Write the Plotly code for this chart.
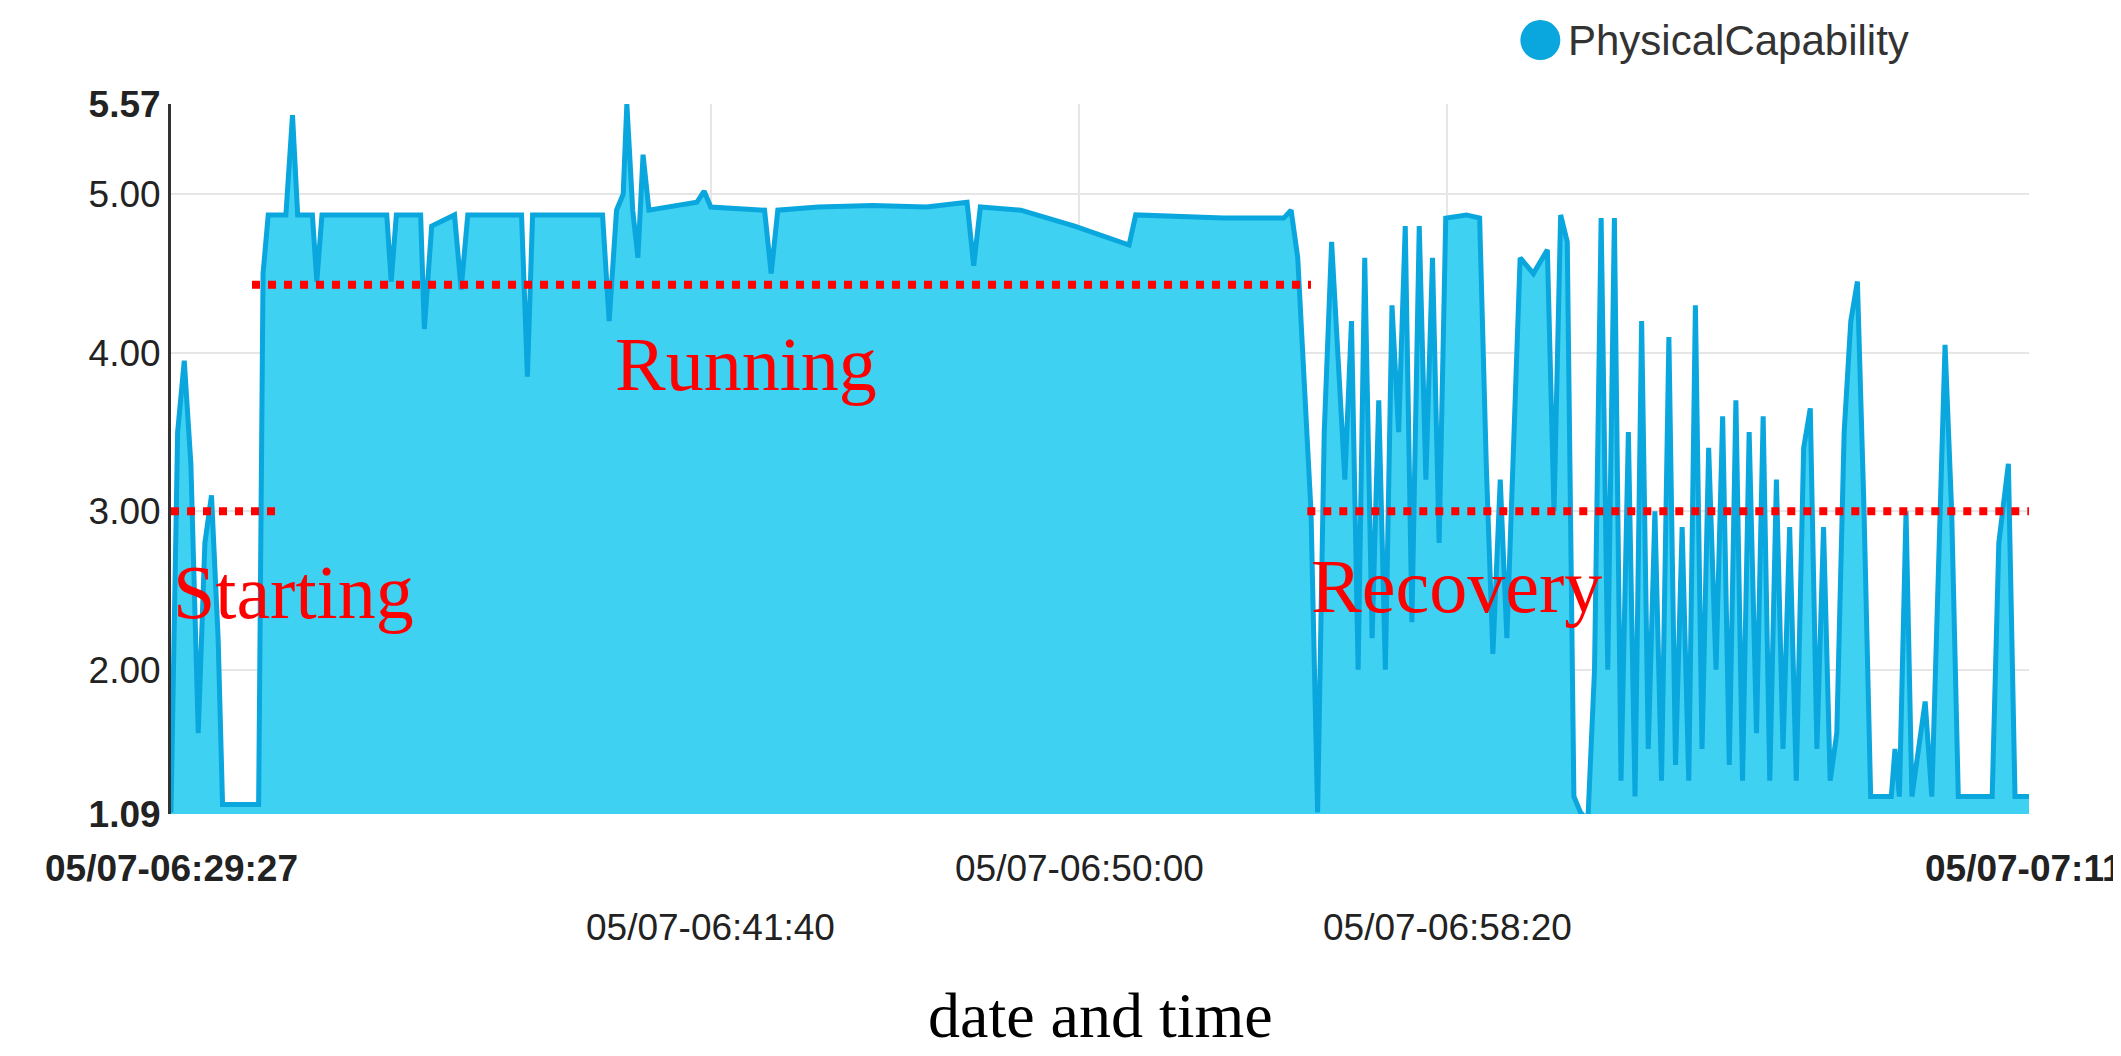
import pandas as pd
import plotly.graph_objects as go

# seconds after 05/07 06:29:27 and PhysicalCapability readings
t_sec = [0, 9, 18, 27, 37, 46, 55, 64, 70, 119, 125, 132, 156, 165, 172, 192, 198, 205,
         293, 299, 306, 339, 344, 354, 385, 394, 403, 476, 484, 491, 586, 595, 605, 614,
         619, 627, 634, 641, 649, 714, 724, 733, 806, 815, 824, 879, 953, 1026, 1081, 1090,
         1099, 1154, 1227, 1301, 1310, 1429, 1511, 1521, 1530, 1539, 1548, 1557, 1566, 1576,
         1585, 1594, 1603, 1612, 1621, 1631, 1640, 1649, 1658, 1667, 1676, 1685, 1695, 1704,
         1713, 1722, 1731, 1759, 1777, 1786, 1795, 1805, 1814, 1832, 1850, 1869, 1878, 1887,
         1896, 1905, 1914, 1924, 1933, 1942, 1951, 1960, 1969, 1979, 1988, 1997, 2006, 2015,
         2024, 2034, 2043, 2052, 2061, 2070, 2079, 2088, 2098, 2107, 2116, 2125, 2134, 2143,
         2153, 2162, 2171, 2180, 2189, 2198, 2207, 2217, 2226, 2235, 2244, 2253, 2262, 2272,
         2281, 2290, 2299, 2308, 2336, 2341, 2347, 2356, 2364, 2382, 2391, 2409, 2418, 2427,
         2473, 2482, 2495, 2504, 2523]
capability = [1.1, 3.5, 3.95, 3.3, 1.6, 2.8, 3.1, 2.2, 1.15, 1.15, 4.5, 4.87, 4.87, 5.5, 4.87,
              4.87, 4.45, 4.87, 4.87, 4.45, 4.87, 4.87, 4.15, 4.8, 4.87, 4.4, 4.87, 4.87, 3.85,
              4.87, 4.87, 4.2, 4.9, 5.0, 5.57, 4.9, 4.6, 5.25, 4.9, 4.95, 5.02, 4.92, 4.9, 4.5,
              4.9, 4.92, 4.93, 4.92, 4.95, 4.55, 4.92, 4.9, 4.8, 4.68, 4.87, 4.85, 4.85, 4.9,
              4.6, 3.8, 3.0, 1.1, 3.5, 4.7, 4.0, 3.2, 4.2, 2.0, 4.6, 2.2, 3.7, 2.0, 4.3, 3.5,
              4.8, 2.3, 4.8, 3.2, 4.6, 2.8, 4.85, 4.87, 4.85, 3.3, 2.1, 3.2, 2.2, 4.6, 4.5,
              4.65, 3.0, 4.87, 4.7, 1.2, 1.1, 1.05, 2.0, 4.85, 2.0, 4.85, 1.3, 3.5, 1.2, 4.2,
              1.5, 3.0, 1.3, 4.1, 1.4, 2.9, 1.3, 4.3, 1.5, 3.4, 2.0, 3.6, 1.4, 3.7, 1.3, 3.5,
              1.6, 3.6, 1.3, 3.2, 1.5, 2.9, 1.3, 3.4, 3.65, 1.5, 2.9, 1.3, 1.6, 3.5, 4.2, 4.45,
              3.0, 1.2, 1.2, 1.5, 1.2, 3.0, 1.2, 1.8, 1.2, 4.05, 3.0, 1.2, 1.2, 2.8, 3.3, 1.2, 1.2]

start = pd.Timestamp("2023-05-07 06:29:27")
times = [start + pd.Timedelta(seconds=s) for s in t_sec]
end = times[-1]

# phase markers: (label, level, start sec, end sec, label sec, label y)
phases = [("Starting", 3.0, 0, 147, 0, 2.49),
          ("Running", 4.43, 110, 1548, 600, 3.93),
          ("Recovery", 3.0, 1543, 2523, 1545, 2.53)]

tick_times = ["2023-05-07 06:41:40", "2023-05-07 06:50:00", "2023-05-07 06:58:20"]
tick_labels = [("05/07-06:29:27", str(start), True, -54),
               ("05/07-06:41:40", tick_times[0], False, -113),
               ("05/07-06:50:00", tick_times[1], False, -54),
               ("05/07-06:58:20", tick_times[2], False, -113)]

fig = go.Figure()
fig.add_trace(go.Scatter(x=times, y=capability, mode="lines", fill="tozeroy",
                         fillcolor="#3fd1f1", line=dict(color="#0aa6de", width=5),
                         name="PhysicalCapability", showlegend=False))

for name, level, s0, s1, sl, yl in phases:
    fig.add_shape(type="line", x0=start + pd.Timedelta(seconds=s0), x1=start + pd.Timedelta(seconds=s1),
                  y0=level, y1=level, line=dict(color="#ff0000", width=8, dash="dot"))
    fig.add_annotation(x=start + pd.Timedelta(seconds=sl), y=yl, text=name, showarrow=False,
                       xanchor="left", font=dict(family="Liberation Serif", size=76, color="#ff0000"))

# legend drawn by hand so the dot can be big
fig.add_shape(type="circle", xref="paper", yref="paper", xsizemode="pixel", ysizemode="pixel",
              xanchor=0.737, yanchor=1.09, x0=-20, x1=20, y0=-20, y1=20,
              fillcolor="#0aa6de", line=dict(width=0))
fig.add_annotation(x=0.737, xref="paper", y=1.09, yref="paper", text="PhysicalCapability",
                   showarrow=False, xanchor="left", xshift=26, yanchor="middle",
                   font=dict(family="Liberation Sans", size=42, color="#333"))

for text, x, bold, shift in tick_labels:
    fig.add_annotation(x=x, y=0, yref="paper", text="<b>%s</b>" % text if bold else text,
                       showarrow=False, yshift=shift, yanchor="middle",
                       font=dict(family="Liberation Sans", size=37, color="#222"))
fig.add_annotation(x=1, xref="paper", y=0, yref="paper", text="<b>05/07-07:11</b>", showarrow=False,
                   xanchor="right", xshift=96, yshift=-54, yanchor="middle",
                   font=dict(family="Liberation Sans", size=37, color="#222"))
fig.add_annotation(x=0.5, xref="paper", y=0, yref="paper", text="date and time", showarrow=False,
                   yshift=-201, yanchor="middle",
                   font=dict(family="Liberation Serif", size=64, color="#000"))

fig.update_xaxes(range=[start, end], tickvals=tick_times, showticklabels=False,
                 showgrid=True, gridcolor="#e6e6e6", gridwidth=2, zeroline=False)
fig.update_yaxes(range=[1.09, 5.57], tickvals=[1.09, 2, 3, 4, 5, 5.57],
                 ticktext=["<b>1.09</b>", "2.00", "3.00", "4.00", "5.00", "<b>5.57</b>"],
                 tickfont=dict(family="Liberation Sans", size=37, color="#222"),
                 showgrid=True, gridcolor="#e6e6e6", gridwidth=2, zeroline=False,
                 showline=True, linecolor="#333", linewidth=3, ticks="", ticklen=0)
fig.update_layout(width=2121, height=1056, plot_bgcolor="white", paper_bgcolor="white",
                  margin=dict(l=163, r=100, t=96, b=250), showlegend=False)
fig.write_html("out.html")
